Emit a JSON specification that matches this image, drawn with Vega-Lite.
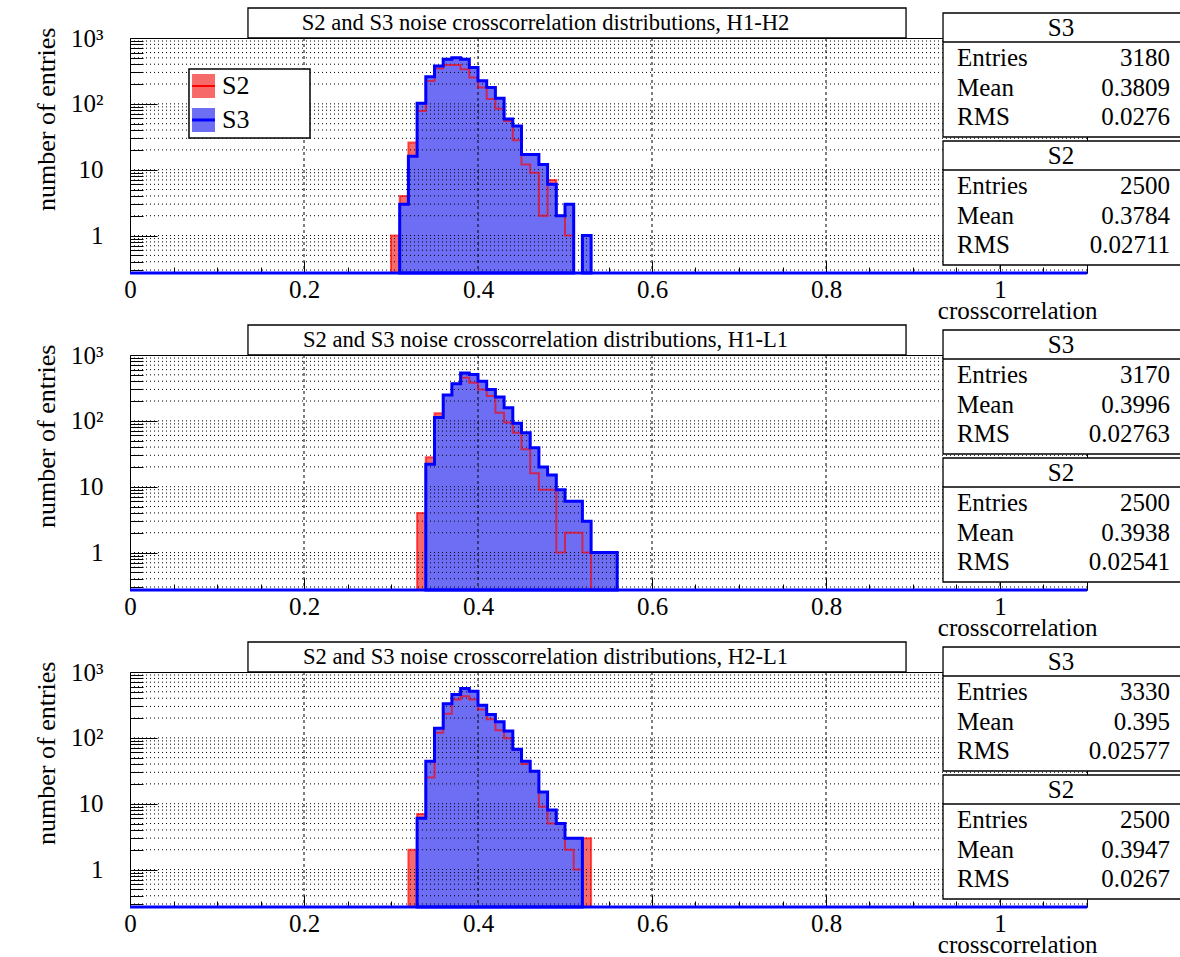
{
  "$schema": "https://vega.github.io/schema/vega-lite/v6.json",
  "background": "#ffffff",
  "padding": {"left": 33, "top": 6, "right": 0, "bottom": 0},
  "autosize": {"type": "pad"},
  "config": {
    "font": "Liberation Serif",
    "view": {"stroke": "#000000", "strokeWidth": 1},
    "axis": {
      "labelFont": "Liberation Serif",
      "titleFont": "Liberation Serif",
      "labelColor": "#000000",
      "titleColor": "#000000",
      "tickColor": "#000000",
      "tickWidth": 1,
      "titleFontWeight": "normal",
      "domain": false,
      "grid": false,
      "labelFlush": false,
      "labelOverlap": false
    },
    "text": {"font": "Liberation Serif", "color": "#000000"}
  },
  "datasets": {
    "ygrid": [
      {"v": 0.3}, {"v": 0.4}, {"v": 0.5}, {"v": 0.6}, {"v": 0.7}, {"v": 0.8}, {"v": 0.9},
      {"v": 1}, {"v": 2}, {"v": 3}, {"v": 4}, {"v": 5}, {"v": 6}, {"v": 7}, {"v": 8}, {"v": 9},
      {"v": 10}, {"v": 20}, {"v": 30}, {"v": 40}, {"v": 50}, {"v": 60}, {"v": 70}, {"v": 80}, {"v": 90},
      {"v": 100}, {"v": 200}, {"v": 300}, {"v": 400}, {"v": 500}, {"v": 600}, {"v": 700}, {"v": 800}, {"v": 900}
    ],
    "xgrid": [{"v": 0.2}, {"v": 0.4}, {"v": 0.6}, {"v": 0.8}, {"v": 1.0}],
    "h12": [
      {"series": "S2", "lo": 0.30, "hi": 0.31, "n": 1, "run": 1},
      {"series": "S2", "lo": 0.31, "hi": 0.32, "n": 4, "run": 1},
      {"series": "S2", "lo": 0.32, "hi": 0.33, "n": 26, "run": 1},
      {"series": "S2", "lo": 0.33, "hi": 0.34, "n": 78, "run": 1},
      {"series": "S2", "lo": 0.34, "hi": 0.35, "n": 223, "run": 1},
      {"series": "S2", "lo": 0.35, "hi": 0.36, "n": 343, "run": 1},
      {"series": "S2", "lo": 0.36, "hi": 0.37, "n": 389, "run": 1},
      {"series": "S2", "lo": 0.37, "hi": 0.38, "n": 389, "run": 1},
      {"series": "S2", "lo": 0.38, "hi": 0.39, "n": 336, "run": 1},
      {"series": "S2", "lo": 0.39, "hi": 0.40, "n": 251, "run": 1},
      {"series": "S2", "lo": 0.40, "hi": 0.41, "n": 177, "run": 1},
      {"series": "S2", "lo": 0.41, "hi": 0.42, "n": 118, "run": 1},
      {"series": "S2", "lo": 0.42, "hi": 0.43, "n": 84, "run": 1},
      {"series": "S2", "lo": 0.43, "hi": 0.44, "n": 55, "run": 1},
      {"series": "S2", "lo": 0.44, "hi": 0.45, "n": 28, "run": 1},
      {"series": "S2", "lo": 0.45, "hi": 0.46, "n": 12, "run": 1},
      {"series": "S2", "lo": 0.46, "hi": 0.47, "n": 9, "run": 1},
      {"series": "S2", "lo": 0.47, "hi": 0.48, "n": 2, "run": 1},
      {"series": "S2", "lo": 0.48, "hi": 0.49, "n": 7, "run": 1},
      {"series": "S2", "lo": 0.49, "hi": 0.50, "n": 2, "run": 1},
      {"series": "S2", "lo": 0.50, "hi": 0.51, "n": 1, "run": 1},
      {"series": "S3", "lo": 0.31, "hi": 0.32, "n": 3, "run": 1},
      {"series": "S3", "lo": 0.32, "hi": 0.33, "n": 16, "run": 1},
      {"series": "S3", "lo": 0.33, "hi": 0.34, "n": 102, "run": 1},
      {"series": "S3", "lo": 0.34, "hi": 0.35, "n": 257, "run": 1},
      {"series": "S3", "lo": 0.35, "hi": 0.36, "n": 377, "run": 1},
      {"series": "S3", "lo": 0.36, "hi": 0.37, "n": 475, "run": 1},
      {"series": "S3", "lo": 0.37, "hi": 0.38, "n": 502, "run": 1},
      {"series": "S3", "lo": 0.38, "hi": 0.39, "n": 475, "run": 1},
      {"series": "S3", "lo": 0.39, "hi": 0.40, "n": 355, "run": 1},
      {"series": "S3", "lo": 0.40, "hi": 0.41, "n": 224, "run": 1},
      {"series": "S3", "lo": 0.41, "hi": 0.42, "n": 177, "run": 1},
      {"series": "S3", "lo": 0.42, "hi": 0.43, "n": 122, "run": 1},
      {"series": "S3", "lo": 0.43, "hi": 0.44, "n": 59, "run": 1},
      {"series": "S3", "lo": 0.44, "hi": 0.45, "n": 46, "run": 1},
      {"series": "S3", "lo": 0.45, "hi": 0.46, "n": 17, "run": 1},
      {"series": "S3", "lo": 0.46, "hi": 0.47, "n": 17, "run": 1},
      {"series": "S3", "lo": 0.47, "hi": 0.48, "n": 12, "run": 1},
      {"series": "S3", "lo": 0.48, "hi": 0.49, "n": 6, "run": 1},
      {"series": "S3", "lo": 0.49, "hi": 0.50, "n": 2, "run": 1},
      {"series": "S3", "lo": 0.50, "hi": 0.51, "n": 3, "run": 1},
      {"series": "S3", "lo": 0.52, "hi": 0.53, "n": 1, "run": 2}
    ],
    "h1l1": [
      {"series": "S2", "lo": 0.33, "hi": 0.34, "n": 4, "run": 1},
      {"series": "S2", "lo": 0.34, "hi": 0.35, "n": 28, "run": 1},
      {"series": "S2", "lo": 0.35, "hi": 0.36, "n": 130, "run": 1},
      {"series": "S2", "lo": 0.36, "hi": 0.37, "n": 246, "run": 1},
      {"series": "S2", "lo": 0.37, "hi": 0.38, "n": 365, "run": 1},
      {"series": "S2", "lo": 0.38, "hi": 0.39, "n": 450, "run": 1},
      {"series": "S2", "lo": 0.39, "hi": 0.40, "n": 378, "run": 1},
      {"series": "S2", "lo": 0.40, "hi": 0.41, "n": 300, "run": 1},
      {"series": "S2", "lo": 0.41, "hi": 0.42, "n": 238, "run": 1},
      {"series": "S2", "lo": 0.42, "hi": 0.43, "n": 133, "run": 1},
      {"series": "S2", "lo": 0.43, "hi": 0.44, "n": 94, "run": 1},
      {"series": "S2", "lo": 0.44, "hi": 0.45, "n": 66, "run": 1},
      {"series": "S2", "lo": 0.45, "hi": 0.46, "n": 37, "run": 1},
      {"series": "S2", "lo": 0.46, "hi": 0.47, "n": 16, "run": 1},
      {"series": "S2", "lo": 0.47, "hi": 0.48, "n": 9, "run": 1},
      {"series": "S2", "lo": 0.48, "hi": 0.49, "n": 9, "run": 1},
      {"series": "S2", "lo": 0.49, "hi": 0.50, "n": 1, "run": 1},
      {"series": "S2", "lo": 0.50, "hi": 0.51, "n": 2, "run": 1},
      {"series": "S2", "lo": 0.51, "hi": 0.52, "n": 2, "run": 1},
      {"series": "S2", "lo": 0.52, "hi": 0.53, "n": 1, "run": 1},
      {"series": "S3", "lo": 0.34, "hi": 0.35, "n": 22, "run": 1},
      {"series": "S3", "lo": 0.35, "hi": 0.36, "n": 112, "run": 1},
      {"series": "S3", "lo": 0.36, "hi": 0.37, "n": 246, "run": 1},
      {"series": "S3", "lo": 0.37, "hi": 0.38, "n": 365, "run": 1},
      {"series": "S3", "lo": 0.38, "hi": 0.39, "n": 535, "run": 1},
      {"series": "S3", "lo": 0.39, "hi": 0.40, "n": 506, "run": 1},
      {"series": "S3", "lo": 0.40, "hi": 0.41, "n": 401, "run": 1},
      {"series": "S3", "lo": 0.41, "hi": 0.42, "n": 300, "run": 1},
      {"series": "S3", "lo": 0.42, "hi": 0.43, "n": 230, "run": 1},
      {"series": "S3", "lo": 0.43, "hi": 0.44, "n": 158, "run": 1},
      {"series": "S3", "lo": 0.44, "hi": 0.45, "n": 92, "run": 1},
      {"series": "S3", "lo": 0.45, "hi": 0.46, "n": 66, "run": 1},
      {"series": "S3", "lo": 0.46, "hi": 0.47, "n": 39, "run": 1},
      {"series": "S3", "lo": 0.47, "hi": 0.48, "n": 20, "run": 1},
      {"series": "S3", "lo": 0.48, "hi": 0.49, "n": 15, "run": 1},
      {"series": "S3", "lo": 0.49, "hi": 0.50, "n": 9, "run": 1},
      {"series": "S3", "lo": 0.50, "hi": 0.51, "n": 6, "run": 1},
      {"series": "S3", "lo": 0.51, "hi": 0.52, "n": 6, "run": 1},
      {"series": "S3", "lo": 0.52, "hi": 0.53, "n": 3, "run": 1},
      {"series": "S3", "lo": 0.53, "hi": 0.54, "n": 1, "run": 1},
      {"series": "S3", "lo": 0.54, "hi": 0.55, "n": 1, "run": 1},
      {"series": "S3", "lo": 0.55, "hi": 0.56, "n": 1, "run": 1}
    ],
    "h2l1": [
      {"series": "S2", "lo": 0.32, "hi": 0.33, "n": 2, "run": 1},
      {"series": "S2", "lo": 0.33, "hi": 0.34, "n": 7, "run": 1},
      {"series": "S2", "lo": 0.34, "hi": 0.35, "n": 25, "run": 1},
      {"series": "S2", "lo": 0.35, "hi": 0.36, "n": 120, "run": 1},
      {"series": "S2", "lo": 0.36, "hi": 0.37, "n": 232, "run": 1},
      {"series": "S2", "lo": 0.37, "hi": 0.38, "n": 383, "run": 1},
      {"series": "S2", "lo": 0.38, "hi": 0.39, "n": 430, "run": 1},
      {"series": "S2", "lo": 0.39, "hi": 0.40, "n": 383, "run": 1},
      {"series": "S2", "lo": 0.40, "hi": 0.41, "n": 270, "run": 1},
      {"series": "S2", "lo": 0.41, "hi": 0.42, "n": 191, "run": 1},
      {"series": "S2", "lo": 0.42, "hi": 0.43, "n": 130, "run": 1},
      {"series": "S2", "lo": 0.43, "hi": 0.44, "n": 99, "run": 1},
      {"series": "S2", "lo": 0.44, "hi": 0.45, "n": 67, "run": 1},
      {"series": "S2", "lo": 0.45, "hi": 0.46, "n": 40, "run": 1},
      {"series": "S2", "lo": 0.46, "hi": 0.47, "n": 31, "run": 1},
      {"series": "S2", "lo": 0.47, "hi": 0.48, "n": 9, "run": 1},
      {"series": "S2", "lo": 0.48, "hi": 0.49, "n": 5, "run": 1},
      {"series": "S2", "lo": 0.49, "hi": 0.50, "n": 5, "run": 1},
      {"series": "S2", "lo": 0.50, "hi": 0.51, "n": 2, "run": 1},
      {"series": "S2", "lo": 0.51, "hi": 0.52, "n": 1, "run": 1},
      {"series": "S2", "lo": 0.52, "hi": 0.53, "n": 3, "run": 1},
      {"series": "S3", "lo": 0.33, "hi": 0.34, "n": 6, "run": 1},
      {"series": "S3", "lo": 0.34, "hi": 0.35, "n": 44, "run": 1},
      {"series": "S3", "lo": 0.35, "hi": 0.36, "n": 140, "run": 1},
      {"series": "S3", "lo": 0.36, "hi": 0.37, "n": 329, "run": 1},
      {"series": "S3", "lo": 0.37, "hi": 0.38, "n": 456, "run": 1},
      {"series": "S3", "lo": 0.38, "hi": 0.39, "n": 561, "run": 1},
      {"series": "S3", "lo": 0.39, "hi": 0.40, "n": 510, "run": 1},
      {"series": "S3", "lo": 0.40, "hi": 0.41, "n": 314, "run": 1},
      {"series": "S3", "lo": 0.41, "hi": 0.42, "n": 227, "run": 1},
      {"series": "S3", "lo": 0.42, "hi": 0.43, "n": 176, "run": 1},
      {"series": "S3", "lo": 0.43, "hi": 0.44, "n": 127, "run": 1},
      {"series": "S3", "lo": 0.44, "hi": 0.45, "n": 67, "run": 1},
      {"series": "S3", "lo": 0.45, "hi": 0.46, "n": 44, "run": 1},
      {"series": "S3", "lo": 0.46, "hi": 0.47, "n": 31, "run": 1},
      {"series": "S3", "lo": 0.47, "hi": 0.48, "n": 15, "run": 1},
      {"series": "S3", "lo": 0.48, "hi": 0.49, "n": 8, "run": 1},
      {"series": "S3", "lo": 0.49, "hi": 0.50, "n": 5, "run": 1},
      {"series": "S3", "lo": 0.50, "hi": 0.51, "n": 3, "run": 1},
      {"series": "S3", "lo": 0.51, "hi": 0.52, "n": 3, "run": 1}
    ],
    "stats12": [
      {"box": "S3", "name": "Entries", "value": "3180"},
      {"box": "S3", "name": "Mean", "value": "0.3809"},
      {"box": "S3", "name": "RMS", "value": "0.0276"},
      {"box": "S2", "name": "Entries", "value": "2500"},
      {"box": "S2", "name": "Mean", "value": "0.3784"},
      {"box": "S2", "name": "RMS", "value": "0.02711"}
    ],
    "stats1l1": [
      {"box": "S3", "name": "Entries", "value": "3170"},
      {"box": "S3", "name": "Mean", "value": "0.3996"},
      {"box": "S3", "name": "RMS", "value": "0.02763"},
      {"box": "S2", "name": "Entries", "value": "2500"},
      {"box": "S2", "name": "Mean", "value": "0.3938"},
      {"box": "S2", "name": "RMS", "value": "0.02541"}
    ],
    "stats2l1": [
      {"box": "S3", "name": "Entries", "value": "3330"},
      {"box": "S3", "name": "Mean", "value": "0.395"},
      {"box": "S3", "name": "RMS", "value": "0.02577"},
      {"box": "S2", "name": "Entries", "value": "2500"},
      {"box": "S2", "name": "Mean", "value": "0.3947"},
      {"box": "S2", "name": "RMS", "value": "0.0267"}
    ]
  },
  "spacing": 82,
  "bounds": "flush",
  "vconcat": [
    {
      "width": 957,
      "height": 235,
      "resolve": {"scale": {"y": "independent"}, "axis": {"x": "independent", "y": "independent"}},
      "layer": [
        {
          "resolve": {"axis": {"x": "independent", "y": "independent"}},
          "layer": [
            {
              "data": {"name": "h12"},
              "transform": [{"filter": "datum.series === 'S2'"}, {"fold": ["lo", "hi"], "as": ["edge", "cc"]}],
              "mark": {"type": "area", "color": "#f76a6a"},
              "encoding": {
                "x": {"field": "cc", "type": "quantitative", "scale": {"domain": [0, 1.1], "nice": false, "zero": false},
                  "axis": {"orient": "bottom", "values": [0, 0.2, 0.4, 0.6, 0.8, 1], "labelExpr": "'' + datum.value", "tickSize": -12, "labelPadding": 16, "labelFont": "Liberation Serif", "labelFontSize": 25,
                    "title": "crosscorrelation", "titleFont": "Liberation Serif", "titleFontSize": 25, "titleAnchor": "end", "titleAlign": "right", "titleX": 967, "titleY": 45, "titleBaseline": "alphabetic"}},
                "y": {"field": "n", "type": "quantitative", "stack": null, "scale": {"type": "log", "domain": [0.27, 1000], "nice": false},
                  "axis": {"orient": "left", "values": [1, 10, 100, 1000], "labelExpr": "datum.value == 100 ? '10²' : datum.value == 1000 ? '10³' : '' + datum.value", "tickSize": -27, "labelPadding": 54, "labelFont": "Liberation Serif", "labelFontSize": 25,
                    "title": "number of entries", "titleFont": "Liberation Serif", "titleFontSize": 26, "titleAnchor": "end", "titleAlign": "right", "titleY": -11, "titlePadding": 11}},
                "y2": {"datum": 0.27},
                "detail": {"field": "run", "type": "nominal"},
                "order": [{"field": "cc", "type": "quantitative"}, {"field": "edge", "type": "ordinal"}]
              }
            },
            {
              "data": {"name": "h12"},
              "transform": [{"filter": "datum.series === 'S3'"}, {"fold": ["lo", "hi"], "as": ["edge", "cc"]}],
              "mark": {"type": "area", "color": "#6e6ef5"},
              "encoding": {
                "x": {"field": "cc", "type": "quantitative", "axis": null},
                "y": {"field": "n", "type": "quantitative", "stack": null, "axis": null},
                "y2": {"datum": 0.27},
                "detail": {"field": "run", "type": "nominal"},
                "order": [{"field": "cc", "type": "quantitative"}, {"field": "edge", "type": "ordinal"}]
              }
            },
            {
              "data": {"name": "ygrid"},
              "mark": {"type": "rule", "stroke": "#000000", "strokeWidth": 1, "strokeDash": [1, 3]},
              "encoding": {"y": {"field": "v", "type": "quantitative", "axis": null}}
            },
            {
              "data": {"name": "xgrid"},
              "mark": {"type": "rule", "stroke": "#000000", "strokeWidth": 1, "strokeDash": [3, 3]},
              "encoding": {"x": {"field": "v", "type": "quantitative", "axis": null}}
            },
            {
              "data": {"name": "h12"},
              "transform": [{"filter": "datum.series === 'S2'"}, {"fold": ["lo", "hi"], "as": ["edge", "cc"]}],
              "mark": {"type": "area", "fillOpacity": 0, "stroke": "#ff0000", "strokeOpacity": 0.65, "strokeWidth": 2, "strokeJoin": "miter"},
              "encoding": {
                "x": {"field": "cc", "type": "quantitative",
                  "axis": {"orient": "bottom", "values": [0.05, 0.1, 0.15, 0.25, 0.3, 0.35, 0.45, 0.5, 0.55, 0.65, 0.7, 0.75, 0.85, 0.9, 0.95, 1.05], "tickSize": -6, "labels": false, "title": null}},
                "y": {"field": "n", "type": "quantitative", "stack": null,
                  "axis": {"orient": "left", "values": [0.3, 0.4, 0.5, 0.6, 0.7, 0.8, 0.9, 2, 3, 4, 5, 6, 7, 8, 9, 20, 30, 40, 50, 60, 70, 80, 90, 200, 300, 400, 500, 600, 700, 800, 900], "tickSize": -13, "labels": false, "title": null}},
                "y2": {"datum": 0.27},
                "detail": {"field": "run", "type": "nominal"},
                "order": [{"field": "cc", "type": "quantitative"}, {"field": "edge", "type": "ordinal"}]
              }
            },
            {
              "data": {"name": "h12"},
              "transform": [{"filter": "datum.series === 'S3'"}, {"fold": ["lo", "hi"], "as": ["edge", "cc"]}],
              "mark": {"type": "area", "fillOpacity": 0, "stroke": "#0000ff", "strokeWidth": 3, "strokeJoin": "miter"},
              "encoding": {
                "x": {"field": "cc", "type": "quantitative", "axis": null},
                "y": {"field": "n", "type": "quantitative", "stack": null, "axis": null},
                "y2": {"datum": 0.27},
                "detail": {"field": "run", "type": "nominal"},
                "order": [{"field": "cc", "type": "quantitative"}, {"field": "edge", "type": "ordinal"}]
              }
            },
            {
              "data": {"values": [{}]},
              "mark": {"type": "rule", "stroke": "#0000ff", "strokeWidth": 3},
              "encoding": {"x": {"datum": 0, "axis": null}, "x2": {"datum": 1.1}, "y": {"datum": 0.27, "axis": null}}
            },
            {
              "data": {"values": [{}]},
              "mark": {"type": "rect", "fill": "#ffffff", "stroke": "#000000", "strokeWidth": 1.3},
              "encoding": {"x": {"datum": 0.1356, "axis": null}, "x2": {"datum": 0.892}, "y": {"datum": 2855, "axis": null}, "y2": {"datum": 1000}}
            },
            {
              "data": {"values": [{}]},
              "mark": {"type": "text", "fontSize": 22.6, "align": "center", "baseline": "middle"},
              "encoding": {"x": {"datum": 0.4776, "axis": null}, "y": {"datum": 1690, "axis": null}, "text": {"value": "S2 and S3 noise crosscorrelation distributions, H1-H2"}}
            },
            {
              "data": {"values": [{}]},
              "mark": {"type": "rect", "fill": "#ffffff", "stroke": "#000000", "strokeWidth": 1.5},
              "encoding": {"x": {"datum": 0.0678, "axis": null}, "x2": {"datum": 0.2069}, "y": {"datum": 338.2, "axis": null}, "y2": {"datum": 30.3}}
            },
            {
              "data": {"values": [{}]},
              "mark": {"type": "rect", "fill": "#f76a6a"},
              "encoding": {"x": {"datum": 0.0713, "axis": null}, "x2": {"datum": 0.0977}, "y": {"datum": 284, "axis": null}, "y2": {"datum": 122.7}}
            },
            {
              "data": {"values": [{}]},
              "mark": {"type": "rule", "stroke": "#ff0000", "strokeWidth": 2},
              "encoding": {"x": {"datum": 0.0713, "axis": null}, "x2": {"datum": 0.0977}, "y": {"datum": 186.7, "axis": null}}
            },
            {
              "data": {"values": [{}]},
              "mark": {"type": "rect", "fill": "#6e6ef5"},
              "encoding": {"x": {"datum": 0.0713, "axis": null}, "x2": {"datum": 0.0977}, "y": {"datum": 86.5, "axis": null}, "y2": {"datum": 37.4}}
            },
            {
              "data": {"values": [{}]},
              "mark": {"type": "rule", "stroke": "#0000ff", "strokeWidth": 3},
              "encoding": {"x": {"datum": 0.0713, "axis": null}, "x2": {"datum": 0.0977}, "y": {"datum": 56.9, "axis": null}}
            },
            {
              "data": {"values": [{}]},
              "mark": {"type": "text", "fontSize": 26, "align": "left", "baseline": "middle"},
              "encoding": {"x": {"datum": 0.1057, "axis": null}, "y": {"datum": 186.7, "axis": null}, "text": {"value": "S2"}}
            },
            {
              "data": {"values": [{}]},
              "mark": {"type": "text", "fontSize": 26, "align": "left", "baseline": "middle"},
              "encoding": {"x": {"datum": 0.1057, "axis": null}, "y": {"datum": 56.9, "axis": null}, "text": {"value": "S3"}}
            }
          ]
        },
        {
          "data": {"name": "stats12"},
          "layer": [
            {
              "transform": [{"filter": "datum.name === 'Entries'"}],
              "mark": {"type": "rect", "fill": "#ffffff", "stroke": "#000000", "strokeWidth": 1.3},
              "encoding": {
                "x": {"datum": 0.9345, "axis": null}, "x2": {"datum": 1.25},
                "y": {"field": "box", "type": "nominal", "bandPosition": 0, "scale": {"type": "band", "domain": ["S3", "S2"], "range": [-25, 227], "paddingInner": 0.03125, "paddingOuter": 0}, "axis": null},
                "y2": {"field": "box", "bandPosition": 1}
              }
            },
            {
              "transform": [{"filter": "datum.name === 'Entries'"}],
              "mark": {"type": "rule", "stroke": "#000000", "strokeWidth": 1.3, "yOffset": 29},
              "encoding": {"x": {"datum": 0.9345, "axis": null}, "x2": {"datum": 1.25}, "y": {"field": "box", "type": "nominal", "bandPosition": 0, "axis": null}}
            },
            {
              "transform": [{"filter": "datum.name === 'Entries'"}],
              "mark": {"type": "text", "fontSize": 25, "align": "center", "baseline": "middle", "yOffset": 15},
              "encoding": {"x": {"datum": 1.0701, "axis": null}, "y": {"field": "box", "type": "nominal", "bandPosition": 0, "axis": null}, "text": {"field": "box"}}
            },
            {
              "mark": {"type": "text", "fontSize": 25, "align": "left", "baseline": "middle"},
              "encoding": {
                "x": {"datum": 0.9506, "axis": null},
                "y": {"field": "box", "type": "nominal", "bandPosition": 0, "axis": null},
                "yOffset": {"field": "name", "type": "nominal", "scale": {"type": "point", "domain": ["Entries", "Mean", "RMS"], "range": [45, 104], "padding": 0}},
                "text": {"field": "name"}
              }
            },
            {
              "mark": {"type": "text", "fontSize": 25, "align": "right", "baseline": "middle"},
              "encoding": {
                "x": {"datum": 1.1954, "axis": null},
                "y": {"field": "box", "type": "nominal", "bandPosition": 0, "axis": null},
                "yOffset": {"field": "name", "type": "nominal"},
                "text": {"field": "value"}
              }
            }
          ]
        }
      ]
    },
    {
      "width": 957,
      "height": 235,
      "resolve": {"scale": {"y": "independent"}, "axis": {"x": "independent", "y": "independent"}},
      "layer": [
        {
          "resolve": {"axis": {"x": "independent", "y": "independent"}},
          "layer": [
            {
              "data": {"name": "h1l1"},
              "transform": [{"filter": "datum.series === 'S2'"}, {"fold": ["lo", "hi"], "as": ["edge", "cc"]}],
              "mark": {"type": "area", "color": "#f76a6a"},
              "encoding": {
                "x": {"field": "cc", "type": "quantitative", "scale": {"domain": [0, 1.1], "nice": false, "zero": false},
                  "axis": {"orient": "bottom", "values": [0, 0.2, 0.4, 0.6, 0.8, 1], "labelExpr": "'' + datum.value", "tickSize": -12, "labelPadding": 16, "labelFont": "Liberation Serif", "labelFontSize": 25,
                    "title": "crosscorrelation", "titleFont": "Liberation Serif", "titleFontSize": 25, "titleAnchor": "end", "titleAlign": "right", "titleX": 967, "titleY": 45, "titleBaseline": "alphabetic"}},
                "y": {"field": "n", "type": "quantitative", "stack": null, "scale": {"type": "log", "domain": [0.27, 1000], "nice": false},
                  "axis": {"orient": "left", "values": [1, 10, 100, 1000], "labelExpr": "datum.value == 100 ? '10²' : datum.value == 1000 ? '10³' : '' + datum.value", "tickSize": -27, "labelPadding": 54, "labelFont": "Liberation Serif", "labelFontSize": 25,
                    "title": "number of entries", "titleFont": "Liberation Serif", "titleFontSize": 26, "titleAnchor": "end", "titleAlign": "right", "titleY": -11, "titlePadding": 11}},
                "y2": {"datum": 0.27},
                "detail": {"field": "run", "type": "nominal"},
                "order": [{"field": "cc", "type": "quantitative"}, {"field": "edge", "type": "ordinal"}]
              }
            },
            {
              "data": {"name": "h1l1"},
              "transform": [{"filter": "datum.series === 'S3'"}, {"fold": ["lo", "hi"], "as": ["edge", "cc"]}],
              "mark": {"type": "area", "color": "#6e6ef5"},
              "encoding": {
                "x": {"field": "cc", "type": "quantitative", "axis": null},
                "y": {"field": "n", "type": "quantitative", "stack": null, "axis": null},
                "y2": {"datum": 0.27},
                "detail": {"field": "run", "type": "nominal"},
                "order": [{"field": "cc", "type": "quantitative"}, {"field": "edge", "type": "ordinal"}]
              }
            },
            {
              "data": {"name": "ygrid"},
              "mark": {"type": "rule", "stroke": "#000000", "strokeWidth": 1, "strokeDash": [1, 3]},
              "encoding": {"y": {"field": "v", "type": "quantitative", "axis": null}}
            },
            {
              "data": {"name": "xgrid"},
              "mark": {"type": "rule", "stroke": "#000000", "strokeWidth": 1, "strokeDash": [3, 3]},
              "encoding": {"x": {"field": "v", "type": "quantitative", "axis": null}}
            },
            {
              "data": {"name": "h1l1"},
              "transform": [{"filter": "datum.series === 'S2'"}, {"fold": ["lo", "hi"], "as": ["edge", "cc"]}],
              "mark": {"type": "area", "fillOpacity": 0, "stroke": "#ff0000", "strokeOpacity": 0.65, "strokeWidth": 2, "strokeJoin": "miter"},
              "encoding": {
                "x": {"field": "cc", "type": "quantitative",
                  "axis": {"orient": "bottom", "values": [0.05, 0.1, 0.15, 0.25, 0.3, 0.35, 0.45, 0.5, 0.55, 0.65, 0.7, 0.75, 0.85, 0.9, 0.95, 1.05], "tickSize": -6, "labels": false, "title": null}},
                "y": {"field": "n", "type": "quantitative", "stack": null,
                  "axis": {"orient": "left", "values": [0.3, 0.4, 0.5, 0.6, 0.7, 0.8, 0.9, 2, 3, 4, 5, 6, 7, 8, 9, 20, 30, 40, 50, 60, 70, 80, 90, 200, 300, 400, 500, 600, 700, 800, 900], "tickSize": -13, "labels": false, "title": null}},
                "y2": {"datum": 0.27},
                "detail": {"field": "run", "type": "nominal"},
                "order": [{"field": "cc", "type": "quantitative"}, {"field": "edge", "type": "ordinal"}]
              }
            },
            {
              "data": {"name": "h1l1"},
              "transform": [{"filter": "datum.series === 'S3'"}, {"fold": ["lo", "hi"], "as": ["edge", "cc"]}],
              "mark": {"type": "area", "fillOpacity": 0, "stroke": "#0000ff", "strokeWidth": 3, "strokeJoin": "miter"},
              "encoding": {
                "x": {"field": "cc", "type": "quantitative", "axis": null},
                "y": {"field": "n", "type": "quantitative", "stack": null, "axis": null},
                "y2": {"datum": 0.27},
                "detail": {"field": "run", "type": "nominal"},
                "order": [{"field": "cc", "type": "quantitative"}, {"field": "edge", "type": "ordinal"}]
              }
            },
            {
              "data": {"values": [{}]},
              "mark": {"type": "rule", "stroke": "#0000ff", "strokeWidth": 3},
              "encoding": {"x": {"datum": 0, "axis": null}, "x2": {"datum": 1.1}, "y": {"datum": 0.27, "axis": null}}
            },
            {
              "data": {"values": [{}]},
              "mark": {"type": "rect", "fill": "#ffffff", "stroke": "#000000", "strokeWidth": 1.3},
              "encoding": {"x": {"datum": 0.1356, "axis": null}, "x2": {"datum": 0.892}, "y": {"datum": 2855, "axis": null}, "y2": {"datum": 1000}}
            },
            {
              "data": {"values": [{}]},
              "mark": {"type": "text", "fontSize": 22.6, "align": "center", "baseline": "middle"},
              "encoding": {"x": {"datum": 0.4776, "axis": null}, "y": {"datum": 1690, "axis": null}, "text": {"value": "S2 and S3 noise crosscorrelation distributions, H1-L1"}}
            }
          ]
        },
        {
          "data": {"name": "stats1l1"},
          "layer": [
            {
              "transform": [{"filter": "datum.name === 'Entries'"}],
              "mark": {"type": "rect", "fill": "#ffffff", "stroke": "#000000", "strokeWidth": 1.3},
              "encoding": {
                "x": {"datum": 0.9345, "axis": null}, "x2": {"datum": 1.25},
                "y": {"field": "box", "type": "nominal", "bandPosition": 0, "scale": {"type": "band", "domain": ["S3", "S2"], "range": [-25, 227], "paddingInner": 0.03125, "paddingOuter": 0}, "axis": null},
                "y2": {"field": "box", "bandPosition": 1}
              }
            },
            {
              "transform": [{"filter": "datum.name === 'Entries'"}],
              "mark": {"type": "rule", "stroke": "#000000", "strokeWidth": 1.3, "yOffset": 29},
              "encoding": {"x": {"datum": 0.9345, "axis": null}, "x2": {"datum": 1.25}, "y": {"field": "box", "type": "nominal", "bandPosition": 0, "axis": null}}
            },
            {
              "transform": [{"filter": "datum.name === 'Entries'"}],
              "mark": {"type": "text", "fontSize": 25, "align": "center", "baseline": "middle", "yOffset": 15},
              "encoding": {"x": {"datum": 1.0701, "axis": null}, "y": {"field": "box", "type": "nominal", "bandPosition": 0, "axis": null}, "text": {"field": "box"}}
            },
            {
              "mark": {"type": "text", "fontSize": 25, "align": "left", "baseline": "middle"},
              "encoding": {
                "x": {"datum": 0.9506, "axis": null},
                "y": {"field": "box", "type": "nominal", "bandPosition": 0, "axis": null},
                "yOffset": {"field": "name", "type": "nominal", "scale": {"type": "point", "domain": ["Entries", "Mean", "RMS"], "range": [45, 104], "padding": 0}},
                "text": {"field": "name"}
              }
            },
            {
              "mark": {"type": "text", "fontSize": 25, "align": "right", "baseline": "middle"},
              "encoding": {
                "x": {"datum": 1.1954, "axis": null},
                "y": {"field": "box", "type": "nominal", "bandPosition": 0, "axis": null},
                "yOffset": {"field": "name", "type": "nominal"},
                "text": {"field": "value"}
              }
            }
          ]
        }
      ]
    },
    {
      "width": 957,
      "height": 235,
      "resolve": {"scale": {"y": "independent"}, "axis": {"x": "independent", "y": "independent"}},
      "layer": [
        {
          "resolve": {"axis": {"x": "independent", "y": "independent"}},
          "layer": [
            {
              "data": {"name": "h2l1"},
              "transform": [{"filter": "datum.series === 'S2'"}, {"fold": ["lo", "hi"], "as": ["edge", "cc"]}],
              "mark": {"type": "area", "color": "#f76a6a"},
              "encoding": {
                "x": {"field": "cc", "type": "quantitative", "scale": {"domain": [0, 1.1], "nice": false, "zero": false},
                  "axis": {"orient": "bottom", "values": [0, 0.2, 0.4, 0.6, 0.8, 1], "labelExpr": "'' + datum.value", "tickSize": -12, "labelPadding": 16, "labelFont": "Liberation Serif", "labelFontSize": 25,
                    "title": "crosscorrelation", "titleFont": "Liberation Serif", "titleFontSize": 25, "titleAnchor": "end", "titleAlign": "right", "titleX": 967, "titleY": 45, "titleBaseline": "alphabetic"}},
                "y": {"field": "n", "type": "quantitative", "stack": null, "scale": {"type": "log", "domain": [0.27, 1000], "nice": false},
                  "axis": {"orient": "left", "values": [1, 10, 100, 1000], "labelExpr": "datum.value == 100 ? '10²' : datum.value == 1000 ? '10³' : '' + datum.value", "tickSize": -27, "labelPadding": 54, "labelFont": "Liberation Serif", "labelFontSize": 25,
                    "title": "number of entries", "titleFont": "Liberation Serif", "titleFontSize": 26, "titleAnchor": "end", "titleAlign": "right", "titleY": -11, "titlePadding": 11}},
                "y2": {"datum": 0.27},
                "detail": {"field": "run", "type": "nominal"},
                "order": [{"field": "cc", "type": "quantitative"}, {"field": "edge", "type": "ordinal"}]
              }
            },
            {
              "data": {"name": "h2l1"},
              "transform": [{"filter": "datum.series === 'S3'"}, {"fold": ["lo", "hi"], "as": ["edge", "cc"]}],
              "mark": {"type": "area", "color": "#6e6ef5"},
              "encoding": {
                "x": {"field": "cc", "type": "quantitative", "axis": null},
                "y": {"field": "n", "type": "quantitative", "stack": null, "axis": null},
                "y2": {"datum": 0.27},
                "detail": {"field": "run", "type": "nominal"},
                "order": [{"field": "cc", "type": "quantitative"}, {"field": "edge", "type": "ordinal"}]
              }
            },
            {
              "data": {"name": "ygrid"},
              "mark": {"type": "rule", "stroke": "#000000", "strokeWidth": 1, "strokeDash": [1, 3]},
              "encoding": {"y": {"field": "v", "type": "quantitative", "axis": null}}
            },
            {
              "data": {"name": "xgrid"},
              "mark": {"type": "rule", "stroke": "#000000", "strokeWidth": 1, "strokeDash": [3, 3]},
              "encoding": {"x": {"field": "v", "type": "quantitative", "axis": null}}
            },
            {
              "data": {"name": "h2l1"},
              "transform": [{"filter": "datum.series === 'S2'"}, {"fold": ["lo", "hi"], "as": ["edge", "cc"]}],
              "mark": {"type": "area", "fillOpacity": 0, "stroke": "#ff0000", "strokeOpacity": 0.65, "strokeWidth": 2, "strokeJoin": "miter"},
              "encoding": {
                "x": {"field": "cc", "type": "quantitative",
                  "axis": {"orient": "bottom", "values": [0.05, 0.1, 0.15, 0.25, 0.3, 0.35, 0.45, 0.5, 0.55, 0.65, 0.7, 0.75, 0.85, 0.9, 0.95, 1.05], "tickSize": -6, "labels": false, "title": null}},
                "y": {"field": "n", "type": "quantitative", "stack": null,
                  "axis": {"orient": "left", "values": [0.3, 0.4, 0.5, 0.6, 0.7, 0.8, 0.9, 2, 3, 4, 5, 6, 7, 8, 9, 20, 30, 40, 50, 60, 70, 80, 90, 200, 300, 400, 500, 600, 700, 800, 900], "tickSize": -13, "labels": false, "title": null}},
                "y2": {"datum": 0.27},
                "detail": {"field": "run", "type": "nominal"},
                "order": [{"field": "cc", "type": "quantitative"}, {"field": "edge", "type": "ordinal"}]
              }
            },
            {
              "data": {"name": "h2l1"},
              "transform": [{"filter": "datum.series === 'S3'"}, {"fold": ["lo", "hi"], "as": ["edge", "cc"]}],
              "mark": {"type": "area", "fillOpacity": 0, "stroke": "#0000ff", "strokeWidth": 3, "strokeJoin": "miter"},
              "encoding": {
                "x": {"field": "cc", "type": "quantitative", "axis": null},
                "y": {"field": "n", "type": "quantitative", "stack": null, "axis": null},
                "y2": {"datum": 0.27},
                "detail": {"field": "run", "type": "nominal"},
                "order": [{"field": "cc", "type": "quantitative"}, {"field": "edge", "type": "ordinal"}]
              }
            },
            {
              "data": {"values": [{}]},
              "mark": {"type": "rule", "stroke": "#0000ff", "strokeWidth": 3},
              "encoding": {"x": {"datum": 0, "axis": null}, "x2": {"datum": 1.1}, "y": {"datum": 0.27, "axis": null}}
            },
            {
              "data": {"values": [{}]},
              "mark": {"type": "rect", "fill": "#ffffff", "stroke": "#000000", "strokeWidth": 1.3},
              "encoding": {"x": {"datum": 0.1356, "axis": null}, "x2": {"datum": 0.892}, "y": {"datum": 2855, "axis": null}, "y2": {"datum": 1000}}
            },
            {
              "data": {"values": [{}]},
              "mark": {"type": "text", "fontSize": 22.6, "align": "center", "baseline": "middle"},
              "encoding": {"x": {"datum": 0.4776, "axis": null}, "y": {"datum": 1690, "axis": null}, "text": {"value": "S2 and S3 noise crosscorrelation distributions, H2-L1"}}
            }
          ]
        },
        {
          "data": {"name": "stats2l1"},
          "layer": [
            {
              "transform": [{"filter": "datum.name === 'Entries'"}],
              "mark": {"type": "rect", "fill": "#ffffff", "stroke": "#000000", "strokeWidth": 1.3},
              "encoding": {
                "x": {"datum": 0.9345, "axis": null}, "x2": {"datum": 1.25},
                "y": {"field": "box", "type": "nominal", "bandPosition": 0, "scale": {"type": "band", "domain": ["S3", "S2"], "range": [-25, 227], "paddingInner": 0.03125, "paddingOuter": 0}, "axis": null},
                "y2": {"field": "box", "bandPosition": 1}
              }
            },
            {
              "transform": [{"filter": "datum.name === 'Entries'"}],
              "mark": {"type": "rule", "stroke": "#000000", "strokeWidth": 1.3, "yOffset": 29},
              "encoding": {"x": {"datum": 0.9345, "axis": null}, "x2": {"datum": 1.25}, "y": {"field": "box", "type": "nominal", "bandPosition": 0, "axis": null}}
            },
            {
              "transform": [{"filter": "datum.name === 'Entries'"}],
              "mark": {"type": "text", "fontSize": 25, "align": "center", "baseline": "middle", "yOffset": 15},
              "encoding": {"x": {"datum": 1.0701, "axis": null}, "y": {"field": "box", "type": "nominal", "bandPosition": 0, "axis": null}, "text": {"field": "box"}}
            },
            {
              "mark": {"type": "text", "fontSize": 25, "align": "left", "baseline": "middle"},
              "encoding": {
                "x": {"datum": 0.9506, "axis": null},
                "y": {"field": "box", "type": "nominal", "bandPosition": 0, "axis": null},
                "yOffset": {"field": "name", "type": "nominal", "scale": {"type": "point", "domain": ["Entries", "Mean", "RMS"], "range": [45, 104], "padding": 0}},
                "text": {"field": "name"}
              }
            },
            {
              "mark": {"type": "text", "fontSize": 25, "align": "right", "baseline": "middle"},
              "encoding": {
                "x": {"datum": 1.1954, "axis": null},
                "y": {"field": "box", "type": "nominal", "bandPosition": 0, "axis": null},
                "yOffset": {"field": "name", "type": "nominal"},
                "text": {"field": "value"}
              }
            }
          ]
        }
      ]
    }
  ]
}
